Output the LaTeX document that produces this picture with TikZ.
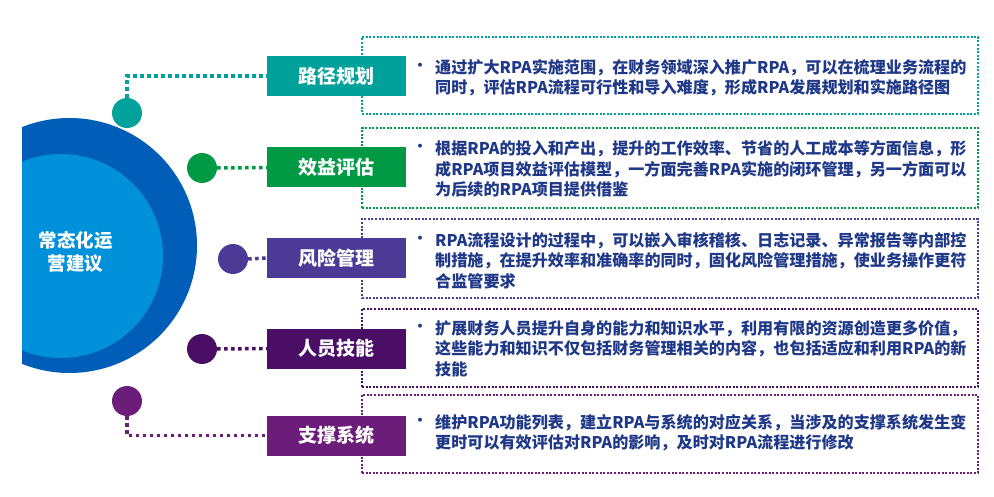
\documentclass[tikz,border=0pt]{standalone}
\usepackage{fontspec}
\setmainfont{Noto Sans CJK SC}
\definecolor{cA}{RGB}{0,161,154}
\definecolor{cB}{RGB}{0,154,68}
\definecolor{cC}{RGB}{75,58,150}
\definecolor{cD}{RGB}{74,14,102}
\definecolor{cE}{RGB}{108,29,122}
\definecolor{outerblue}{RGB}{0,94,184}
\definecolor{innerblue}{RGB}{0,145,218}
\definecolor{navy}{RGB}{31,56,136}
\begin{document}
\begin{tikzpicture}[x=1pt,y=-1pt,
  lbl/.style={minimum width=139pt,minimum height=40pt,inner sep=0pt,text=white,font=\bfseries\fontsize{19}{21}\selectfont},
  body/.style={anchor=west,align=left,text=navy,font=\bfseries\fontsize{16.1}{20.5}\selectfont,inner sep=0pt},
  bul/.style={text=navy,font=\bfseries\fontsize{14}{14}\selectfont,inner sep=0pt},
  dotc/.style={circle,minimum size=30pt,inner sep=0pt},
  conn/.style={line width=3.5pt,dash pattern=on 3.5pt off 3.5pt},
  fram/.style={line width=2pt,dash pattern=on 2pt off 1.6pt,minimum width=616pt,inner sep=0pt}]
\useasboundingbox (0,0) rectangle (994,497);
% big half circle
\begin{scope}
\clip (22,0) rectangle (300,497);
\fill[outerblue] (69.5,245.5) circle (127.5);
\fill[innerblue] (61,256) circle (102);
\end{scope}
\node[text=white,align=center,inner sep=0pt,font=\bfseries\fontsize{18.5}{23}\selectfont] (ctr) at (75.5,252) {常态化运\\营建议};
% frames
\node[fram,draw=cA,minimum height=77pt] (f1) at (670,75.5) {};
\node[fram,draw=cB,minimum height=80pt] (f2) at (670,168) {};
\node[fram,draw=cC,minimum height=79pt] (f3) at (670,258.5) {};
\node[fram,draw=cD,minimum height=78pt] (f4) at (670,348) {};
\node[fram,draw=cE,minimum height=78pt] (f5) at (670,434) {};
% label boxes
\node[lbl,fill=cA] (b1) at (336.5,76) {路径规划};
\node[lbl,fill=cB] (b2) at (336.5,167.5) {效益评估};
\node[lbl,fill=cC] (b3) at (336.5,258) {风险管理};
\node[lbl,fill=cD] (b4) at (336.5,348.5) {人员技能};
\node[lbl,fill=cE] (b5) at (336.5,435.5) {支撑系统};
% small circles
\node[dotc,fill=cA] (d1) at (127,113) {};
\node[dotc,fill=cB] (d2) at (202,168) {};
\node[dotc,fill=cC] (d3) at (233,259) {};
\node[dotc,fill=cD] (d4) at (202,349) {};
\node[dotc,fill=cE] (d5) at (127,401) {};
% connectors
\draw[conn,cA] (d1.north) |- (b1.west);
\draw[conn,cB] (d2.east) -- (b2.west);
\draw[conn,cC] (d3.east) -- (b3.west);
\draw[conn,cD] (d4.east) -- (b4.west);
\draw[conn,cE] (d5.south) |- (b5.west);
% texts
\node[bul] (u1) at (420,67) {•};
\node[body] (t1) at (435,77.5) {通过扩大RPA实施范围，在财务领域深入推广RPA，可以在梳理业务流程的\\同时，评估RPA流程可行性和导入难度，形成RPA发展规划和实施路径图};
\node[bul] (u2) at (420,148) {•};
\node[body] (t2) at (435,169) {根据RPA的投入和产出，提升的工作效率、节省的人工成本等方面信息，形\\成RPA项目效益评估模型，一方面完善RPA实施的闭环管理，另一方面可以\\为后续的RPA项目提供借鉴};
\node[bul] (u3) at (420,240) {•};
\node[body] (t3) at (435,260.5) {RPA流程设计的过程中，可以嵌入审核稽核、日志记录、异常报告等内部控\\制措施，在提升效率和准确率的同时，固化风险管理措施，使业务操作更符\\合监管要求};
\node[bul] (u4) at (420,328) {•};
\node[body] (t4) at (435,348.5) {扩展财务人员提升自身的能力和知识水平，利用有限的资源创造更多价值，\\这些能力和知识不仅包括财务管理相关的内容，也包括适应和利用RPA的新\\技能};
\node[bul] (u5) at (420,422) {•};
\node[body] (t5) at (435,432.5) {维护RPA功能列表，建立RPA与系统的对应关系，当涉及的支撑系统发生变\\更时可以有效评估对RPA的影响，及时对RPA流程进行修改};
\end{tikzpicture}
\end{document}
